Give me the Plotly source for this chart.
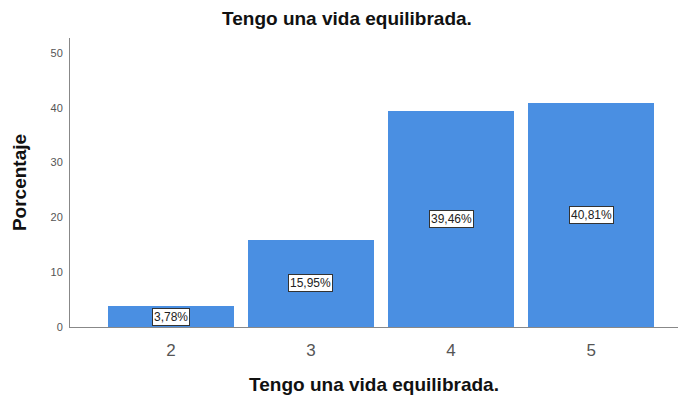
import plotly.graph_objects as go

categories = ["2", "3", "4", "5"]
cat_pos = [2, 3, 4, 5]
percent = [3.78, 15.95, 39.46, 40.81]
labels = ["3,78%", "15,95%", "39,46%", "40,81%"]
y_ticks = [0, 10, 20, 30, 40, 50]

fig = go.Figure()
fig.add_trace(go.Bar(
    x=cat_pos, y=percent, width=0.9,
    marker=dict(color="#4a8fe2", line=dict(width=0)),
    hoverinfo="skip",
))

for xv, yv, txt in zip(cat_pos, percent, labels):
    fig.add_annotation(
        x=xv, y=yv / 2, text=txt, showarrow=False,
        font=dict(family="Arial, Liberation Sans", size=12, color="#222"),
        bgcolor="white", bordercolor="#333", borderwidth=1, borderpad=1,
    )

fig.update_layout(
    width=683, height=399,
    margin=dict(l=70, r=5, t=38, b=72),
    paper_bgcolor="white", plot_bgcolor="white",
    showlegend=False,
    bargap=0,
    title=dict(text="<b>Tengo una vida equilibrada.</b>", x=0.508, xanchor="center",
               y=0.955, yanchor="middle",
               font=dict(family="Arial, Liberation Sans", size=19, color="#111")),
    font=dict(family="Arial, Liberation Sans"),
)
fig.update_xaxes(
    range=[1.28, 5.62], tickvals=cat_pos, ticktext=categories,
    showline=True, linecolor="#888", linewidth=1, ticks="",
    ticklabelstandoff=8,
    showgrid=False, zeroline=False,
    tickfont=dict(size=17, color="#555"),
    title=dict(text="<b>Tengo una vida equilibrada.</b>", standoff=18,
               font=dict(size=19, color="#111")),
)
fig.update_yaxes(
    range=[0, 52.7], tickvals=y_ticks,
    showline=True, linecolor="#888", linewidth=1,
    ticks="outside", ticklen=4, tickcolor="white",
    showgrid=False, zeroline=False,
    tickfont=dict(size=11, color="#555"),
    title=dict(text="<b>Porcentaje</b>", standoff=18,
               font=dict(size=19, color="#111")),
)

fig.write_html("out.html")
